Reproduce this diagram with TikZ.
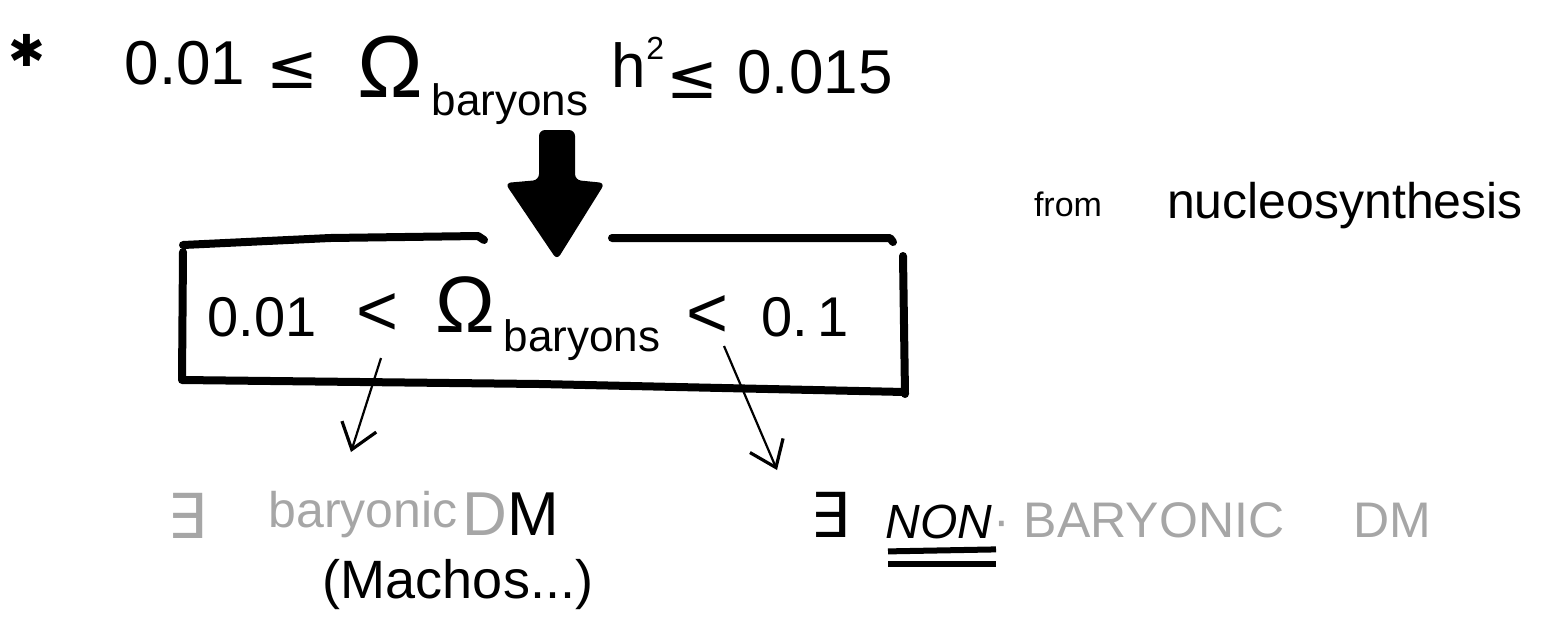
\documentclass[tikz,border=0pt]{standalone}
\usepackage{fontspec}
\setmainfont{Liberation Sans}
\newfontfamily\symf{DejaVu Sans}
\usetikzlibrary{arrows.meta}
\tikzset{
  big/.style={inner sep=0pt, font=\fontsize{31}{34}\selectfont},
  mid/.style={inner sep=0pt, font=\fontsize{28}{32}\selectfont},
  sub/.style={inner sep=0pt, font=\fontsize{22}{26}\selectfont},
  hand/.style={inner sep=0pt, font=\fontsize{25}{28}\selectfont},
  faint/.style={text=black!35},
  boxline/.style={line width=4pt, line cap=round, line join=round},
  thinarrow/.style={line width=1.1pt, -{Straight Barb[length=12pt,width=18pt,line width=1.6pt]}},
}
\begin{document}
\begin{tikzpicture}[x=0.5pt,y=-0.5pt]
\useasboundingbox (0,0) rectangle (1542,618);
% top formula
\node[inner sep=0pt, font=\fontsize{22}{24}\selectfont\symf] (star) at (27,50) {✱};
\node[big] (t1) at (185,63) {0.01};
\node[big] (t2) at (292,70) {\symf ≤};
\node[big, font=\fontsize{44}{48}\selectfont] (t3) at (390,67) {Ω};
\node[sub] (t4) at (510,104) {baryons};
\node[big] (t5) at (638,62) {h\raisebox{0.45em}{\fontsize{16}{18}\selectfont 2}};
\node[big] (t6) at (692,80) {\symf ≤};
\node[big] (t7) at (815,72) {0.015};
% big arrow
\coordinate (bt) at (557,130);
\fill[rounded corners=3pt] (bt) ++(-18,0) -- ++(36,0) -- ++(0,50) -- ++(30,3) -- (557,260) -- (505,183) -- (539,180) -- cycle;
% box
\draw[boxline] (183,245) -- (330,238) -- (478,236) -- (484,240);
\draw[boxline] (612,238) -- (890,238) -- (893,242);
\draw[boxline] (183,252) -- (182,380) -- (540,384) -- (905,392);
\draw[boxline] (903,256) -- (905,394);
% box content
\node[mid] (b1) at (262,317) {0.01};
\node[mid, font=\fontsize{36}{40}\selectfont] (b2) at (378,314) {<};
\node[mid, font=\fontsize{40}{44}\selectfont] (b3) at (465,305) {Ω};
\node[sub] (b4) at (582,340) {baryons};
\node[mid, font=\fontsize{36}{40}\selectfont] (b5) at (708,316) {<};
\node[mid] (b6) at (805,317) {0.\,1};
% thin arrows
\coordinate (a1s) at (381,358);
\coordinate (a1e) at (351,452);
\coordinate (a2s) at (724,346);
\coordinate (a2e) at (777,470);
\draw[thinarrow] (a1s) -- (a1e);
\draw[thinarrow] (a2s) -- (a2e);
% side note
\node[inner sep=0pt, font=\fontsize{17}{20}\selectfont] (from) at (1068,204) {from};
\node[hand] (nucl) at (1345,206) {nucleosynthesis};
% bottom left
\node[big, faint] (e1) at (187,516) {\symf ∃};
\node[hand, faint, anchor=west] (bary) at (268,515) {baryonic};
\node[big, anchor=west] (dm1) at (462,514) {{\color{black!35}D}M};
\node[hand, font=\fontsize{27}{30}\selectfont] (mach) at (458,585) {(Machos...)};
% bottom right
\node[big] (e2) at (830,515) {\symf ∃};
\node[hand, font=\fontsize{24}{28}\selectfont\itshape, anchor=west] (non) at (885,522) {NON};
\node[hand, faint, anchor=west] (nb) at (993,520) {· BARYONIC \ \ \ \ DM};
\draw[line width=3pt] (non.south west) ++(3,12) coordinate (u1) -- ++(108,-2);
\draw[line width=3pt] (u1) ++(0,13) -- ++(108,0);
\end{tikzpicture}
\end{document}
